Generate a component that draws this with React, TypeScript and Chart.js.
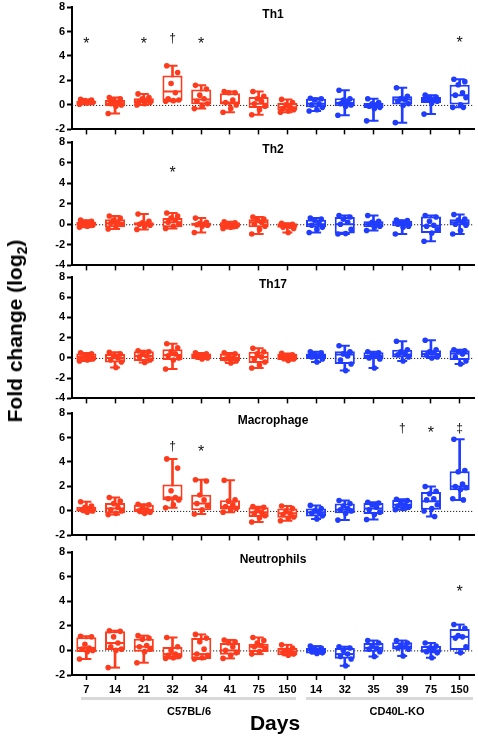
import React, { useEffect, useRef } from 'react';
import { Chart, registerables } from 'chart.js';

Chart.register(...registerables);

// ---------- DATA ----------
const DAYS = ['7', '14', '21', '32', '34', '41', '75', '150', '14', '32', '35', '39', '75', '150'];
const STRAIN = ['C57BL/6', 'C57BL/6', 'C57BL/6', 'C57BL/6', 'C57BL/6', 'C57BL/6', 'C57BL/6', 'C57BL/6',
  'CD40L-KO', 'CD40L-KO', 'CD40L-KO', 'CD40L-KO', 'CD40L-KO', 'CD40L-KO'];
const PANEL_TITLES = ['Th1', 'Th2', 'Th17', 'Macrophage', 'Neutrophils'];
const Y_MIN = [-2, -4, -4, -2, -2];
const Y_MAX = [8, 8, 8, 8, 8];

// individual animals (log2 fold change) per group
const TH1_POINTS = [
  [0.45, 0.4, 0.35, 0.3, 0.25, 0.2, 0.15, 0.05],
  [0.6, 0.5, 0.35, 0.2, 0.1, 0, -0.1, -0.7],
  [0.9, 0.6, 0.5, 0.4, 0.3, 0.2, 0.1, 0.0],
  [3.2, 2.65, 1.75, 1.0, 0.5, 0.4, 0.35, 0.3],
  [1.6, 1.3, 0.8, 0.5, 0.3, 0.1, -0.1, -0.3],
  [1.1, 1.0, 1.0, 0.4, 0.2, 0.0, -0.3, -0.6],
  [1.1, 0.7, 0.5, 0.3, 0.1, -0.1, -0.4, -0.8],
  [0.45, 0.2, 0.0, -0.2, -0.3, -0.4, -0.5, -0.6],
  [0.55, 0.5, 0.4, 0.1, 0.0, -0.2, -0.4, -0.5],
  [1.2, 0.5, 0.4, 0.2, 0.1, 0.0, -0.1, -0.85],
  [0.5, 0.2, 0.1, 0.0, -0.1, -0.2, -0.3, -1.3],
  [1.4, 0.7, 0.5, 0.4, 0.3, 0.1, -0.05, -1.45],
  [0.8, 0.65, 0.6, 0.45, 0.4, 0.3, 0.15, -0.75],
  [2.1, 1.9, 1.65, 1.0, 0.8, 0.6, 0.0, -0.2, -0.2],
];
// [Q1, median, Q3]
const TH1_QUART = [
  [0.1, 0.2, 0.35], [-0.1, 0.1, 0.4], [0.15, 0.3, 0.55], [0.35, 1.1, 2.4], [0.05, 0.45, 1.25],
  [0.0, 0.2, 0.95], [-0.25, 0.1, 0.65], [-0.45, -0.2, 0.15], [-0.2, 0.1, 0.5], [-0.1, 0.15, 0.55],
  [-0.25, -0.05, 0.15], [0.0, 0.45, 0.7], [0.15, 0.4, 0.65], [0.0, 0.8, 1.65],
];
const TH1_MARKS: [number, string, number][] = [[0, '*', 5.3], [2, '*', 5.3], [3, '†', 5.45], [4, '*', 5.3], [13, '*', 5.4]];

const TH2_POINTS = [
  [0.4, 0.3, 0.2, 0.1, 0, -0.1, -0.2, -0.3],
  [0.8, 0.6, 0.4, 0.2, 0.1, 0, -0.2, -0.45],
  [1.0, 0.3, 0.15, 0.05, 0, -0.1, -0.2, -0.5],
  [1.1, 0.8, 0.6, 0.4, 0.2, 0, -0.2, -0.4],
  [0.6, 0.2, 0.1, 0, -0.05, -0.1, -0.2, -0.8],
  [0.25, 0.15, 0.05, -0.1, -0.15, -0.2, -0.3, -0.4],
  [0.7, 0.5, 0.4, 0.2, 0, -0.2, -0.5, -0.95],
  [0.1, 0, -0.1, -0.2, -0.3, -0.4, -0.8],
  [0.6, 0.5, 0.4, 0.1, -0.1, -0.3, -0.5, -0.8],
  [0.85, 0.7, 0.5, 0.2, 0, -0.5, -0.9, -0.95],
  [0.85, 0.3, 0.2, 0.1, 0, -0.2, -0.3, -0.6],
  [0.4, 0.35, 0.2, 0.1, 0, -0.2, -0.3, -0.95],
  [0.85, 0.7, 0.3, -0.1, -0.2, -0.5, -0.85, -1.65],
  [0.95, 0.5, 0.4, 0.2, 0, -0.1, -0.6, -0.95],
];
const TH2_QUART = [
  [-0.15, 0, 0.25], [-0.3, 0.1, 0.5], [-0.1, 0, 0.2], [-0.3, 0.2, 0.6], [-0.15, 0, 0.15],
  [-0.3, -0.1, 0.2], [-0.3, 0.2, 0.5], [-0.35, -0.1, 0.1], [-0.3, 0, 0.45], [-0.9, 0, 0.7],
  [-0.3, 0, 0.3], [-0.2, 0.1, 0.35], [-0.85, -0.15, 0.75], [-0.1, 0.2, 0.5],
];
const TH2_MARKS: [number, string, number][] = [[3, '*', 5.4]];

const TH17_POINTS = [
  [0.5, 0.4, 0.3, 0.1, 0, -0.1, -0.2, -0.3],
  [0.55, 0.4, 0.2, 0, -0.2, -0.4, -0.95],
  [0.7, 0.6, 0.4, 0.2, 0.1, -0.2, -0.45],
  [1.4, 1.0, 0.6, 0.4, 0.2, 0, -0.2, -1.1],
  [0.5, 0.4, 0.3, 0.2, 0.1, 0, -0.1],
  [0.5, 0.4, 0.2, 0, -0.1, -0.3, -0.5],
  [0.95, 0.6, 0.4, 0.1, -0.1, -0.4, -0.7, -1.0],
  [0.45, 0.3, 0.2, 0.1, 0, -0.1, -0.25],
  [0.6, 0.5, 0.4, 0.2, 0.1, -0.1, -0.4],
  [1.2, 0.6, 0.4, 0.2, -0.2, -0.6, -1.25],
  [0.6, 0.5, 0.3, 0.2, 0, -0.1, -1.0],
  [1.65, 0.8, 0.6, 0.4, 0.3, 0.1, -0.3],
  [1.75, 0.8, 0.6, 0.5, 0.3, 0.1, 0.0],
  [0.8, 0.7, 0.6, 0.4, 0.1, -0.3, -0.6],
];
const TH17_QUART = [
  [-0.25, 0.1, 0.45], [-0.45, 0, 0.4], [-0.3, 0.2, 0.65], [-0.2, 0.3, 0.85], [-0.1, 0.2, 0.45],
  [-0.3, 0, 0.45], [-0.5, 0.1, 0.6], [-0.2, 0.1, 0.4], [-0.1, 0.2, 0.45], [-0.6, 0.35, 0.65],
  [-0.1, 0.2, 0.55], [0.05, 0.35, 0.8], [0.05, 0.4, 0.75], [-0.2, 0.45, 0.75],
];
const TH17_MARKS: [number, string, number][] = [];

const MAC_POINTS = [
  [0.75, 0.4, 0.3, 0.2, 0.1, 0, -0.1],
  [1.1, 0.8, 0.6, 0.3, 0.1, 0, -0.2, -0.3],
  [0.55, 0.5, 0.3, 0.1, 0, -0.1, -0.2],
  [4.25, 3.5, 1.65, 1.1, 1.0, 0.9, 0.5, 0.25],
  [2.55, 2.45, 1.3, 0.9, 0.6, 0.4, 0.1, -0.25],
  [2.5, 0.9, 0.8, 0.5, 0.35, 0.2, 0.1, -0.1],
  [0.35, 0.3, 0.1, -0.1, -0.2, -0.4, -0.55, -0.9],
  [0.4, 0.2, 0, -0.2, -0.3, -0.5, -0.6, -0.8],
  [0.45, 0.2, 0, -0.1, -0.2, -0.4, -0.65],
  [0.85, 0.6, 0.4, 0.2, 0.1, 0, -0.2, -0.75],
  [0.7, 0.65, 0.5, 0.3, 0.1, -0.1, -0.3, -0.7],
  [0.95, 0.85, 0.6, 0.5, 0.4, 0.3, 0.2, 0.1],
  [2.0, 1.6, 1.4, 1.0, 0.9, 0.5, 0.2, 0.0, -0.45],
  [5.85, 3.3, 3.2, 2.2, 2.0, 1.9, 1.75, 1.0, 0.9],
];
const MAC_QUART = [
  [-0.05, 0.1, 0.35], [-0.2, 0.2, 0.65], [-0.1, 0.1, 0.5], [0.88, 1.1, 2.15], [0.05, 0.6, 1.33],
  [0.13, 0.35, 0.88], [-0.5, -0.1, 0.3], [-0.55, -0.2, 0.2], [-0.45, -0.1, 0.2], [-0.2, 0.1, 0.6],
  [-0.25, 0.2, 0.65], [0.2, 0.5, 0.9], [0.1, 0.8, 1.55], [1.68, 2.0, 3.25],
];
const MAC_MARKS: [number, string, number][] = [[3, '†', 5.3], [4, '*', 5.2], [11, '†', 6.75], [12, '*', 6.75], [13, '‡', 6.75]];

const NEU_POINTS = [
  [1.15, 1.1, 0.5, 0.2, 0.1, 0, -0.1, -0.7],
  [1.6, 1.55, 1.1, 0.6, 0.3, 0.1, 0, -1.4],
  [1.2, 1.0, 0.9, 0.4, 0.3, 0.1, -0.1, -1.0],
  [1.05, 0.3, 0, -0.3, -0.4, -0.5, -0.6, -0.65],
  [1.3, 1.0, 0.7, 0.1, -0.3, -0.4, -0.6, -0.7],
  [0.85, 0.7, 0.6, 0.3, 0, -0.2, -0.4, -0.65],
  [1.05, 0.8, 0.6, 0.4, 0.3, 0.1, -0.1, -0.3],
  [0.45, 0.2, 0, -0.1, -0.2, -0.3, -0.4],
  [0.35, 0.2, 0.1, 0, -0.1, -0.2, -0.25],
  [0.3, 0.2, 0, -0.3, -0.5, -0.7, -1.25],
  [0.8, 0.6, 0.4, 0.2, 0.1, -0.1, -0.5],
  [0.8, 0.6, 0.4, 0.3, 0.2, 0.1, -0.45],
  [0.6, 0.35, 0.2, 0, -0.1, -0.2, -0.6],
  [2.1, 1.8, 1.2, 1.1, 1.0, 0.3, -0.2],
];
const NEU_QUART = [
  [-0.13, 0.2, 1.07], [0, 0.6, 1.55], [-0.1, 0.3, 0.95], [-0.6, -0.3, 0.27], [-0.7, -0.3, 1.0],
  [-0.35, 0, 0.6], [-0.13, 0.3, 0.55], [-0.4, -0.1, 0.2], [-0.25, 0, 0.2], [-0.67, -0.3, 0.2],
  [-0.1, 0.2, 0.6], [0.07, 0.3, 0.67], [-0.2, 0, 0.35], [0, 1.1, 1.75],
];
const NEU_MARKS: [number, string, number][] = [[13, '*', 5.1]];

// ---------- STYLE / LAYOUT ----------
const RED = '#FF3B1E';
const BLUE = '#1F3CFF';
const FONT = "'Liberation Sans', Arial, Helvetica, sans-serif";
const JITTER = [-0.2, 0.18, -0.05, 0.1, -0.15, 0.22, 0.03, -0.24, 0.13];
const PAD_TOP = 10;
const PANEL_BOX = [
  { top: 7, bottom: 130 },
  { top: 142, bottom: 266 },
  { top: 277, bottom: 399 },
  { top: 413, bottom: 536 },
  { top: 552, bottom: 675 },
];

const PANELS = [
  { points: TH1_POINTS, quart: TH1_QUART, marks: TH1_MARKS },
  { points: TH2_POINTS, quart: TH2_QUART, marks: TH2_MARKS },
  { points: TH17_POINTS, quart: TH17_QUART, marks: TH17_MARKS },
  { points: MAC_POINTS, quart: MAC_QUART, marks: MAC_MARKS },
  { points: NEU_POINTS, quart: NEU_QUART, marks: NEU_MARKS },
];

const zeroLinePlugin = {
  id: 'zeroLine',
  beforeDatasetsDraw(chart: any) {
    const { ctx, chartArea } = chart;
    const y = chart.scales.y.getPixelForValue(0);
    ctx.save();
    ctx.strokeStyle = '#222';
    ctx.lineWidth = 1;
    ctx.setLineDash([1.2, 1.8]);
    ctx.beginPath();
    ctx.moveTo(chartArea.left, y + 0.5);
    ctx.lineTo(chartArea.right, y + 0.5);
    ctx.stroke();
    ctx.restore();
  },
};

const marksPlugin = {
  id: 'sigMarks',
  afterDatasetsDraw(chart: any, _args: any, opts: any) {
    const marks: [number, string, number][] = opts.marks || [];
    const { ctx } = chart;
    const xs = chart.scales.x;
    const ys = chart.scales.y;
    ctx.save();
    ctx.fillStyle = '#111';
    ctx.textAlign = 'center';
    ctx.textBaseline = 'alphabetic';
    marks.forEach(([i, s, v]) => {
      const fs = s === '*' ? 16 : 12;
      ctx.font = `${fs}px ${FONT}`;
      const x = xs.getPixelForValue(i);
      const y = ys.getPixelForValue(v) + (s === '*' ? 0.58 : 0.3) * fs;
      ctx.fillText(s, x, y);
    });
    ctx.restore();
  },
};

function buildConfig(idx: number, last: boolean): any {
  const p = PANELS[idx];
  const colors = STRAIN.map((s) => (s === 'C57BL/6' ? RED : BLUE));
  const whisker = p.points.map((pts) => [Math.min(...pts), Math.max(...pts)]);
  const box = p.quart.map((q) => [q[0], q[2]]);
  const caps: { x: number; y: number }[] = [];
  const capColors: string[] = [];
  p.points.forEach((pts, i) => {
    caps.push({ x: i, y: Math.min(...pts) }, { x: i, y: Math.max(...pts) });
    capColors.push(colors[i], colors[i]);
  });
  const medians = p.quart.map((q, i) => ({ x: i, y: q[1] }));
  const dots: { x: number; y: number }[] = [];
  const dotColors: string[] = [];
  p.points.forEach((pts, i) => {
    pts.forEach((v, k) => {
      dots.push({ x: i + JITTER[k % JITTER.length], y: v });
      dotColors.push(colors[i]);
    });
  });
  const tickFont = { family: FONT, size: 11, weight: 'bold' as const };
  return {
    type: 'bar',
    data: {
      labels: DAYS,
      datasets: [
        { type: 'bar', data: whisker, backgroundColor: colors, borderWidth: 0, barThickness: 2, grouped: false, order: 5 },
        {
          type: 'scatter', data: caps, xAxisID: 'xl', yAxisID: 'y', pointStyle: 'line', pointRadius: 5,
          pointBorderWidth: 2, pointBorderColor: capColors, showLine: false, order: 4,
        },
        {
          type: 'bar', data: box, backgroundColor: '#ffffff', borderColor: colors, borderWidth: 2, borderSkipped: false,
          barPercentage: 0.7, categoryPercentage: 1, grouped: false, order: 3,
        },
        {
          type: 'scatter', data: medians, xAxisID: 'xl', yAxisID: 'y', pointStyle: 'line', pointRadius: 9,
          pointBorderWidth: 2, pointBorderColor: colors, showLine: false, order: 2,
        },
        {
          type: 'scatter', data: dots, xAxisID: 'xl', yAxisID: 'y', pointStyle: 'circle', pointRadius: 2.8,
          pointBorderWidth: 0, pointBackgroundColor: dotColors, showLine: false, order: 1,
        },
      ],
    },
    options: {
      animation: false,
      responsive: true,
      maintainAspectRatio: false,
      events: [],
      layout: { autoPadding: false, padding: { top: PAD_TOP, right: 4, left: 0, bottom: 0 } },
      plugins: {
        legend: { display: false },
        tooltip: { enabled: false },
        title: { display: false },
        sigMarks: { marks: p.marks },
      },
      scales: {
        x: {
          type: 'category',
          offset: true,
          grid: { offset: false, drawOnChartArea: false, drawTicks: true, tickLength: 5, tickWidth: 1.5, tickColor: '#000' },
          border: { display: true, color: '#000', width: 2 },
          ticks: { display: last, color: '#000', font: tickFont, padding: 3, maxRotation: 0, autoSkip: false },
          afterFit: (s: any) => { s.height = last ? 26 : 8; },
        },
        xl: {
          type: 'linear', display: false, min: -0.5, max: 13.5, offset: false, bounds: 'data', grace: 0,
          grid: { offset: false },
        },
        y: {
          min: Y_MIN[idx],
          max: Y_MAX[idx],
          ticks: { stepSize: 2, color: '#000', font: tickFont, padding: 2 },
          grid: { drawOnChartArea: false, drawTicks: true, tickLength: 5, tickWidth: 2, tickColor: '#000' },
          border: { display: true, color: '#000', width: 2 },
          afterFit: (s: any) => { s.width = 72; },
        },
      },
    },
    plugins: [zeroLinePlugin, marksPlugin],
  };
}

function Panel({ idx }: { idx: number }) {
  const ref = useRef<HTMLCanvasElement>(null);
  const last = idx === PANELS.length - 1;
  useEffect(() => {
    const chart = new Chart(ref.current as HTMLCanvasElement, buildConfig(idx, last));
    return () => chart.destroy();
  }, [idx, last]);
  const b = PANEL_BOX[idx];
  const h = b.bottom - b.top + PAD_TOP + (last ? 26 : 8);
  return (
    <>
      <div style={{ position: 'absolute', left: 0, top: b.top - PAD_TOP, width: 478, height: h }}>
        <canvas ref={ref} />
      </div>
      <div
        style={{
          position: 'absolute', left: 72, width: 402, top: b.top + 0.5, textAlign: 'center',
          font: `bold 12px/12px ${FONT}`, color: '#000', whiteSpace: 'nowrap',
        }}
      >
        {PANEL_TITLES[idx]}
      </div>
    </>
  );
}

export default function App() {
  return (
    <div style={{ position: 'fixed', left: 0, top: 0, width: 478, height: 739, background: '#fff', overflow: 'hidden' }}>
      {PANELS.map((_, i) => (
        <Panel key={i} idx={i} />
      ))}
      <div
        style={{
          position: 'absolute', left: 15, top: 331, transform: 'translate(-50%, -50%) rotate(-90deg)',
          font: `bold 21px/24px ${FONT}`, color: '#000', whiteSpace: 'nowrap',
        }}
      >
        Fold change (log<sub style={{ fontSize: 14, lineHeight: 0 }}>2</sub>)
      </div>
      <div style={{ position: 'absolute', left: 81, top: 697, width: 215, height: 3, background: '#d9d9d9' }} />
      <div style={{ position: 'absolute', left: 306, top: 697, width: 167, height: 3, background: '#d9d9d9' }} />
      <div
        style={{
          position: 'absolute', left: 189, top: 711, transform: 'translate(-50%, -50%)',
          font: `bold 11px/13px ${FONT}`, color: '#000', whiteSpace: 'nowrap',
        }}
      >
        C57BL/6
      </div>
      <div
        style={{
          position: 'absolute', left: 397, top: 711, transform: 'translate(-50%, -50%)',
          font: `bold 11px/13px ${FONT}`, color: '#000', whiteSpace: 'nowrap',
        }}
      >
        CD40L-KO
      </div>
      <div
        style={{
          position: 'absolute', left: 275, top: 723, transform: 'translate(-50%, -50%)',
          font: `bold 21px/24px ${FONT}`, color: '#000', whiteSpace: 'nowrap',
        }}
      >
        Days
      </div>
    </div>
  );
}
